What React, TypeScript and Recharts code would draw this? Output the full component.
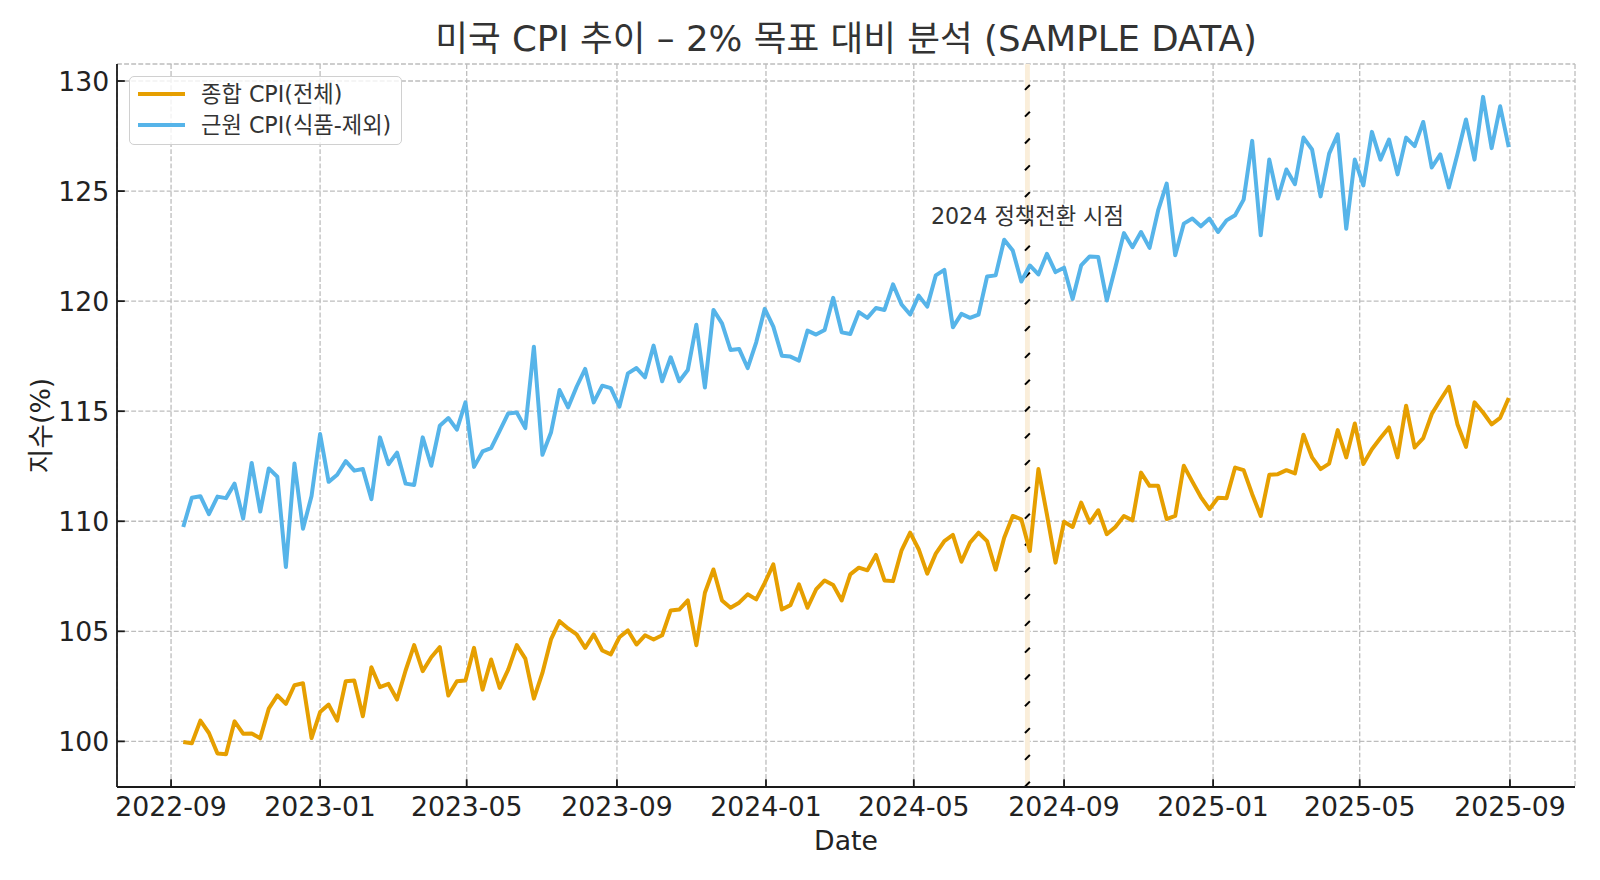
import React from 'react';
import {
  LineChart,
  Line,
  XAxis,
  YAxis,
  CartesianGrid,
  Legend,
  ReferenceArea,
  ReferenceDot,
} from 'recharts';

const FONT = "'DejaVu Sans', 'Noto Sans CJK KR', sans-serif";
const DAY = 24 * 60 * 60 * 1000;

// weekly sample (Sundays) starting from this week
const FIRST_WEEK = '2022-09-11';

const headlineCpi = [
  99.97, 99.91, 100.94, 100.38, 99.45, 99.42, 100.91, 100.35, 100.36, 100.14, 101.49, 102.09,
  101.7, 102.55, 102.64, 100.15, 101.33, 101.67, 100.94, 102.73, 102.76, 101.14,
  103.37, 102.46, 102.61, 101.9, 103.22, 104.37, 103.19, 103.82, 104.28, 102.08, 102.73, 102.76,
  104.25, 102.35, 103.72, 102.43, 103.26, 104.37, 103.76, 101.94, 103.11, 104.63, 105.46, 105.13,
  104.86, 104.25, 104.86, 104.13, 103.95, 104.73, 105.04, 104.4, 104.82, 104.63, 104.82, 105.95,
  105.99, 106.4, 104.37, 106.75, 107.81, 106.4, 106.07, 106.3, 106.68, 106.45,
  107.2, 108.04, 105.99, 106.19, 107.13, 106.07, 106.9, 107.31, 107.1, 106.4, 107.59, 107.89,
  107.77, 108.47, 107.31, 107.28, 108.68, 109.48, 108.73, 107.62, 108.53, 109.1, 109.38, 108.16,
  109.03, 109.48, 109.1, 107.8, 109.25, 110.24, 110.09, 108.65, 112.37, 110.3, 108.12, 109.98,
  109.74, 110.85, 109.94, 110.5, 109.41, 109.74, 110.24, 110.04, 112.21, 111.61, 111.61, 110.1,
  110.24, 112.52, 111.8, 111.1, 110.55, 111.07, 111.05, 112.44, 112.32, 111.23, 110.24, 112.11,
  112.14, 112.32, 112.17, 113.93, 112.9, 112.37, 112.62, 114.14, 112.9, 114.44, 112.6,
  113.27, 113.78, 114.26, 112.9, 115.25, 113.35, 113.78, 114.87, 115.51, 116.11, 114.41, 113.38,
  115.4, 114.94, 114.4, 114.7, 115.6,
];

const coreCpi = [
  109.74, 111.07, 111.14, 110.32, 111.12, 111.05, 111.71, 110.12, 112.65, 110.44, 112.4, 112.02,
  107.92, 112.62, 109.66, 111.15, 113.96, 111.79, 112.11, 112.73, 112.3, 112.37,
  111.0, 113.81, 112.59, 113.12, 111.71, 111.65, 113.81, 112.52, 114.34, 114.69, 114.16, 115.4,
  112.47, 113.17, 113.32, 114.11, 114.9, 114.94, 114.23, 117.93, 113.02, 114.03, 115.96, 115.17,
  116.11, 116.92, 115.4, 116.16, 116.05, 115.2, 116.72, 116.96, 116.54, 117.98, 116.36, 117.45,
  116.36, 116.87, 118.93, 116.08, 119.6, 118.99, 117.78, 117.83, 116.96, 118.13, 119.65,
  118.84, 117.52, 117.48, 117.3, 118.66, 118.48, 118.69, 120.15, 118.58, 118.51, 119.5, 119.24,
  119.69, 119.6, 120.76, 119.85, 119.39, 120.25, 119.75, 121.17, 121.42, 118.81, 119.42,
  119.24, 119.39, 121.12, 121.17, 122.79, 122.3, 120.89, 121.62, 121.21, 122.15, 121.32, 121.52,
  120.1, 121.62, 122.03, 122.0, 120.03, 121.54, 123.09, 122.45, 123.14, 122.42, 124.12, 125.34,
  122.08, 123.52, 123.75, 123.4, 123.75, 123.14, 123.67, 123.9, 124.61, 127.28, 122.99, 126.43,
  124.66, 125.98, 125.31, 127.43, 126.89, 124.76, 126.7, 127.58, 123.29, 126.43, 125.26,
  127.69, 126.43, 127.34, 125.76, 127.43, 127.04, 128.14, 126.07, 126.67, 125.16, 126.67, 128.25,
  126.43, 129.28, 126.95, 128.85, 127.0,
];

const xTickLabels = [
  '2022-09', '2023-01', '2023-05', '2023-09', '2024-01',
  '2024-05', '2024-09', '2025-01', '2025-05', '2025-09',
];
const yTicks = [100, 105, 110, 115, 120, 125, 130];

const seriesNames = ['종합 CPI(전체)', '근원 CPI(식품-제외)'];
const seriesColors = ['#E69F00', '#56B4E9'];

const eventText = '2024 정책전환 시점';
const eventCenter = '2024-08-02';
const eventRange = ['2024-07-31', '2024-08-04'];
const eventTextLevel = 123.85;

const toTime = (s: string) => Date.parse(s + 'T00:00:00Z');

const start = toTime(FIRST_WEEK);
const data = headlineCpi.map((v, i) => ({
  t: start + i * 7 * DAY,
  headline: v,
  core: coreCpi[i],
}));

// matplotlib style 5% margins
const tMin = data[0].t;
const tMax = data[data.length - 1].t;
const xPad = (tMax - tMin) * 0.05;
const allValues = [...headlineCpi, ...coreCpi];
const vMin = Math.min(...allValues);
const vMax = Math.max(...allValues);
const yPad = (vMax - vMin) * 0.05;

const xTicks = xTickLabels.map((m) => toTime(m + '-01'));

const AXIS_COLOR = '#1a1a1a';

const XTick = (props: any) => {
  const { x, y, payload } = props;
  const label = xTickLabels[xTicks.indexOf(payload.value)] ?? '';
  return (
    <g>
      <line x1={x} x2={x} y1={y} y2={y - 7.8} stroke={AXIS_COLOR} strokeWidth={1.8} />
      <text x={x} y={y + 29} textAnchor="middle" fontSize={26.7} fill="#222" fontFamily={FONT}>
        {label}
      </text>
    </g>
  );
};

const YTick = (props: any) => {
  const { x, y, payload } = props;
  return (
    <g>
      <line x1={x} x2={x + 7.8} y1={y} y2={y} stroke={AXIS_COLOR} strokeWidth={1.8} />
      <text x={x - 7.8} y={y + 9.7} textAnchor="end" fontSize={26.7} fill="#222" fontFamily={FONT}>
        {payload.value}
      </text>
    </g>
  );
};

const HatchBand = (props: any) => {
  const { x, y, width, height } = props;
  const marks = [];
  for (let cy = y + 23.4; cy < y + height; cy += 26.8) {
    marks.push(
      <line
        key={cy}
        x1={x}
        y1={cy + width / 2}
        x2={x + width}
        y2={cy - width / 2}
        stroke="#000"
        strokeWidth={2}
      />
    );
  }
  return (
    <g>
      <rect x={x} y={y} width={width} height={height} fill="#FAEEDA" />
      {marks}
    </g>
  );
};

const LegendBox = () => (
  <div
    style={{
      border: '1.3px solid #d0d0d0',
      borderRadius: 5,
      background: 'rgba(255,255,255,0.8)',
      padding: '1px 10px 3px 8px',
      fontFamily: FONT,
    }}
  >
    {seriesNames.map((name, i) => (
      <div key={name} style={{ display: 'flex', alignItems: 'center', height: 31.6 }}>
        <span
          style={{ display: 'inline-block', width: 47, height: 4, background: seriesColors[i], marginRight: 16 }}
        />
        <span style={{ fontSize: 22.2, color: '#333', lineHeight: 1, whiteSpace: 'nowrap' }}>{name}</span>
      </div>
    ))}
  </div>
);

export default function App() {
  return (
    <div style={{ position: 'absolute', left: 0, top: 0, width: 1600, height: 880, background: '#fff' }}>
      <LineChart width={1600} height={880} data={data} margin={{ top: 64, right: 25, bottom: 0, left: 0 }}>
        <CartesianGrid stroke="#bdbdbd" strokeWidth={1.3} strokeDasharray="4.9 2.2" />
        <XAxis
          dataKey="t"
          type="number"
          domain={[tMin - xPad, tMax + xPad]}
          ticks={xTicks}
          interval={0}
          allowDataOverflow
          height={93}
          tickSize={0}
          tickMargin={0}
          tickLine={false}
          axisLine={{ stroke: AXIS_COLOR, strokeWidth: 1.8 }}
          tick={XTick}
        />
        <YAxis
          type="number"
          domain={[vMin - yPad, vMax + yPad]}
          ticks={yTicks}
          interval={0}
          allowDataOverflow
          width={117}
          tickSize={0}
          tickMargin={0}
          tickLine={false}
          axisLine={{ stroke: AXIS_COLOR, strokeWidth: 1.8 }}
          tick={YTick}
        />
        <ReferenceArea
          x1={toTime(eventRange[0])}
          x2={toTime(eventRange[1])}
          shape={(p: any) => <HatchBand {...p} />}
        />
        <Line
          type="linear"
          dataKey="headline"
          name={seriesNames[0]}
          stroke={seriesColors[0]}
          strokeWidth={4}
          strokeLinejoin="round"
          dot={false}
          activeDot={false}
          isAnimationActive={false}
        />
        <Line
          type="linear"
          dataKey="core"
          name={seriesNames[1]}
          stroke={seriesColors[1]}
          strokeWidth={4}
          strokeLinejoin="round"
          dot={false}
          activeDot={false}
          isAnimationActive={false}
        />
        <ReferenceDot
          x={toTime(eventCenter)}
          y={eventTextLevel}
          r={1}
          fill="none"
          stroke="none"
          label={{ value: eventText, position: 'center', fill: '#333', fontSize: 22.2, fontFamily: FONT }}
        />
        <Legend
          layout="vertical"
          align="center"
          verticalAlign="middle"
          wrapperStyle={{ left: 129, top: 76, width: 'auto', height: 'auto' }}
          content={LegendBox}
        />
      </LineChart>
      <svg
        width={1600}
        height={880}
        style={{ position: 'absolute', left: 0, top: 0, pointerEvents: 'none' }}
      >
        <text x={846} y={51} textAnchor="middle" fontSize={35.6} fill="#333" fontFamily={FONT}>
          미국 CPI 추이 – 2% 목표 대비 분석 (SAMPLE DATA)
        </text>
        <text x={846} y={850} textAnchor="middle" fontSize={26.7} fill="#222" fontFamily={FONT}>
          Date
        </text>
        <text
          transform="translate(49.5, 425.5) rotate(-90)"
          textAnchor="middle"
          fontSize={26.7}
          fill="#222"
          fontFamily={FONT}
        >
          지수(%)
        </text>
      </svg>
    </div>
  );
}
